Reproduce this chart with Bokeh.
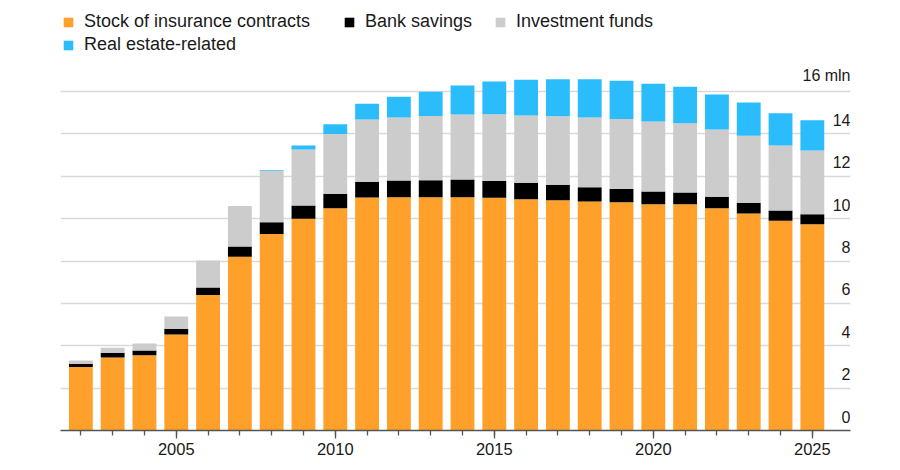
from bokeh.plotting import figure
from bokeh.embed import file_html
from bokeh.resources import INLINE
from bokeh.models import FixedTicker, Legend, LegendItem, ColumnDataSource
from bokeh.core.properties import value

years = list(range(2002, 2026))
insurance = [3.00, 3.44, 3.55, 4.53, 6.39, 8.20, 9.28, 9.99, 10.49, 11.00, 11.01, 11.01,
             11.01, 10.98, 10.92, 10.87, 10.81, 10.77, 10.68, 10.68, 10.49, 10.24, 9.90, 9.74]
bank = [0.15, 0.23, 0.23, 0.27, 0.36, 0.48, 0.55, 0.63, 0.68, 0.74, 0.79, 0.80,
        0.84, 0.80, 0.77, 0.73, 0.67, 0.63, 0.60, 0.55, 0.54, 0.51, 0.48, 0.47]
funds = [0.15, 0.23, 0.33, 0.58, 1.27, 1.91, 2.42, 2.64, 2.83, 2.94, 2.97, 3.03,
         3.06, 3.15, 3.18, 3.23, 3.29, 3.30, 3.30, 3.27, 3.18, 3.16, 3.07, 3.00]
real_estate = [0.0, 0.0, 0.0, 0.0, 0.0, 0.0, 0.03, 0.19, 0.46, 0.74, 0.98, 1.15,
               1.37, 1.54, 1.68, 1.75, 1.81, 1.81, 1.78, 1.73, 1.65, 1.57, 1.52, 1.43]

series = ["insurance", "bank", "funds", "real_estate"]
labels = ["Stock of insurance contracts", "Bank savings", "Investment funds", "Real estate-related"]
colors = ["#ffa02a", "#000000", "#cccccc", "#2bbcfb"]

y_ticks = [0, 2, 4, 6, 8, 10, 12, 14, 16]
y_tick_labels = ["0", "2", "4", "6", "8", "10", "12", "14", "16 mln"]
x_major = [2005, 2010, 2015, 2020, 2025]

FONT = "Liberation Sans"
X_END = 2026.2

source = ColumnDataSource(data=dict(year=years, insurance=insurance, bank=bank,
                                    funds=funds, real_estate=real_estate))

p = figure(width=884, height=462, x_range=(2001.36, X_END), y_range=(0, 20.295),
           output_backend="svg", toolbar_location=None, y_axis_location=None,
           min_border_left=60, min_border_right=34, min_border_top=0, min_border_bottom=32)
p.outline_line_color = None
p.xgrid.grid_line_color = None
p.ygrid.ticker = FixedTicker(ticks=y_ticks[1:])
p.ygrid.grid_line_color = "#d9d9d9"
p.ygrid.grid_line_width = 1.3

bars = p.vbar_stack(series, x="year", width=0.75, color=colors, line_width=0, source=source)

ax = p.xaxis[0]
ax.ticker = FixedTicker(ticks=x_major, minor_ticks=years)
ax.axis_line_color = "#555555"
ax.axis_line_width = 1.5
ax.major_tick_line_color = "#555555"
ax.minor_tick_line_color = "#555555"
ax.major_tick_line_width = 1.3
ax.minor_tick_line_width = 1.3
ax.major_tick_in = 0
ax.major_tick_out = 8
ax.minor_tick_in = 0
ax.minor_tick_out = 5
ax.major_label_standoff = 4
ax.major_label_text_font = FONT
ax.major_label_text_font_size = "16.5px"
ax.major_label_text_color = "#1a1a1a"

# value labels sit just above their gridlines at the right end
p.text(x=[X_END] * len(y_ticks), y=y_ticks, text=y_tick_labels, text_align="right",
       text_baseline="bottom", y_offset=-8, text_font=value(FONT),
       text_font_size="16px", text_color="#1a1a1a")

# one legend per entry so each can sit where the original puts it
spots = [(2, 398), (283, 398), (434, 398), (2, 375)]
for r, lab, loc in zip(bars, labels, spots):
    lg = Legend(items=[LegendItem(label=lab, renderers=[r])], location=loc,
                padding=0, margin=0, border_line_color=None, background_fill_alpha=0,
                glyph_width=12, glyph_height=12, label_standoff=10,
                label_text_font=FONT, label_text_font_size="18px", label_text_color="#1a1a1a")
    p.add_layout(lg)

open("out.html", "w").write(file_html(p, INLINE))
